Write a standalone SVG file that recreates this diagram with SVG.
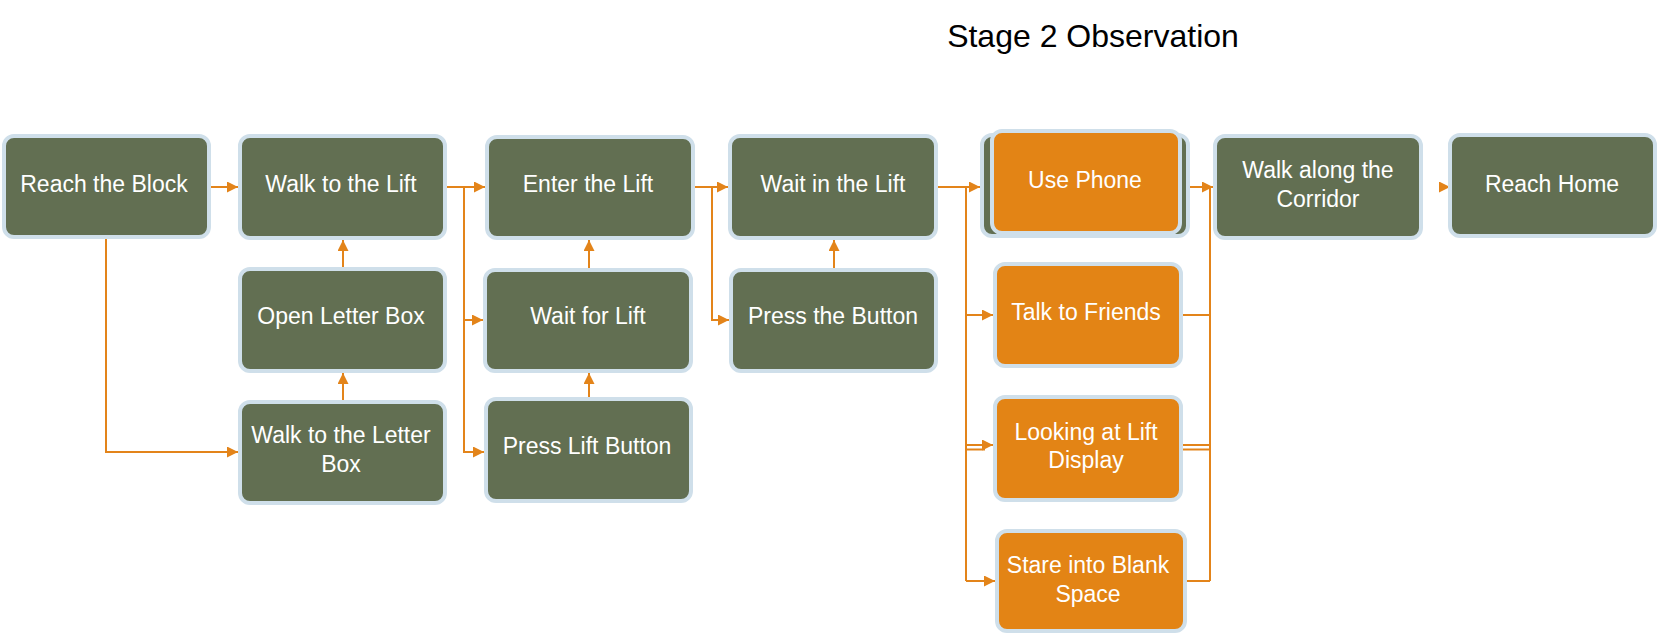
<svg xmlns="http://www.w3.org/2000/svg" width="1658" height="635" viewBox="0 0 1658 635">
<style>
.g rect{fill:#626f52;stroke:#cfdfea;stroke-width:4}
.o rect{fill:#e38415;stroke:#cfdfea;stroke-width:4}
.n text{fill:#ffffff;font-family:"Liberation Sans",Arial,sans-serif;font-size:23px;text-anchor:middle}
#connectors path{fill:none;stroke:#e3841a;stroke-width:2}
.title{fill:#000;font-family:"Liberation Sans",Arial,sans-serif;font-size:32px;text-anchor:middle}
</style>
<defs>
<marker id="ah" markerUnits="userSpaceOnUse" markerWidth="11" markerHeight="11" refX="11" refY="5.5" orient="auto">
<path d="M0,0 L11,5.5 L0,11 z" fill="#e3841a"/>
</marker>
</defs>
<rect width="1658" height="635" fill="#ffffff"/>
<text class="title" x="1093" y="47">Stage 2 Observation</text>

<g id="connectors">
<path d="M211,187 H238" marker-end="url(#ah)"/>
<path d="M106,239 V452 H238" marker-end="url(#ah)"/>
<path d="M343,400 V373" marker-end="url(#ah)"/>
<path d="M343,267 V240" marker-end="url(#ah)"/>
<path d="M447,187 H485" marker-end="url(#ah)"/>
<path d="M447,187 H464 V320 H483" marker-end="url(#ah)"/>
<path d="M464,320 V452 H484" marker-end="url(#ah)"/>
<path d="M589,397 V373" marker-end="url(#ah)"/>
<path d="M589,268 V240" marker-end="url(#ah)"/>
<path d="M695,187 H728" marker-end="url(#ah)"/>
<path d="M712,187 V320 H729" marker-end="url(#ah)"/>
<path d="M834,268 V240" marker-end="url(#ah)"/>
<path d="M938,187 H980" marker-end="url(#ah)"/>
<path d="M966,187 V581"/>
<path d="M966,315 H993" marker-end="url(#ah)"/>
<path d="M966,445 H993" marker-end="url(#ah)"/>
<path d="M966,449.5 H985"/>
<path d="M966,581 H995" marker-end="url(#ah)"/>
<path d="M1190,187 H1213" marker-end="url(#ah)"/>
<path d="M1210,187 V581"/>
<path d="M1183,315 H1210"/>
<path d="M1183,445 H1210"/>
<path d="M1183,449.5 H1210"/>
<path d="M1187,581 H1210"/>
<path d="M1441,187 H1450" marker-end="url(#ah)"/>
</g>

<g id="reach-block" class="n g"><rect x="4" y="136" width="205" height="101" rx="10"/><text x="104" y="192">Reach the Block</text></g>
<g id="walk-lift" class="n g"><rect x="240" y="136" width="205" height="102" rx="10"/><text x="341" y="192">Walk to the Lift</text></g>
<g id="open-letter-box" class="n g"><rect x="240" y="269" width="205" height="102" rx="10"/><text x="341" y="324">Open Letter Box</text></g>
<g id="walk-letter-box" class="n g"><rect x="240" y="402" width="205" height="101" rx="10"/><text x="341" y="443">Walk to the Letter</text><text x="341" y="472">Box</text></g>
<g id="enter-lift" class="n g"><rect x="487" y="137" width="206" height="101" rx="10"/><text x="588" y="192">Enter the Lift</text></g>
<g id="wait-for-lift" class="n g"><rect x="485" y="270" width="206" height="101" rx="10"/><text x="588" y="324">Wait for Lift</text></g>
<g id="press-lift-button" class="n g"><rect x="486" y="399" width="205" height="102" rx="10"/><text x="587" y="454">Press Lift Button</text></g>
<g id="wait-in-lift" class="n g"><rect x="730" y="136" width="206" height="102" rx="10"/><text x="833" y="192">Wait in the Lift</text></g>
<g id="press-button" class="n g"><rect x="731" y="270" width="205" height="101" rx="10"/><text x="833" y="324">Press the Button</text></g>
<g id="use-phone" class="n"><g class="g"><rect x="982" y="135" width="206" height="101" rx="10"/></g><g class="o"><rect x="992" y="131" width="188" height="102" rx="10"/></g><text x="1085" y="188">Use Phone</text></g>
<g id="talk-friends" class="n o"><rect x="995" y="264" width="186" height="102" rx="10"/><text x="1086" y="320">Talk to Friends</text></g>
<g id="looking-display" class="n o"><rect x="995" y="397" width="186" height="103" rx="10"/><text x="1086" y="440">Looking at Lift</text><text x="1086" y="468">Display</text></g>
<g id="stare-blank" class="n o"><rect x="997" y="531" width="188" height="100" rx="10"/><text x="1088" y="573">Stare into Blank</text><text x="1088" y="602">Space</text></g>
<g id="walk-corridor" class="n g"><rect x="1215" y="136" width="206" height="102" rx="10"/><text x="1318" y="178">Walk along the</text><text x="1318" y="207">Corridor</text></g>
<g id="reach-home" class="n g"><rect x="1450" y="135" width="205" height="101" rx="10"/><text x="1552" y="192">Reach Home</text></g>
</svg>
